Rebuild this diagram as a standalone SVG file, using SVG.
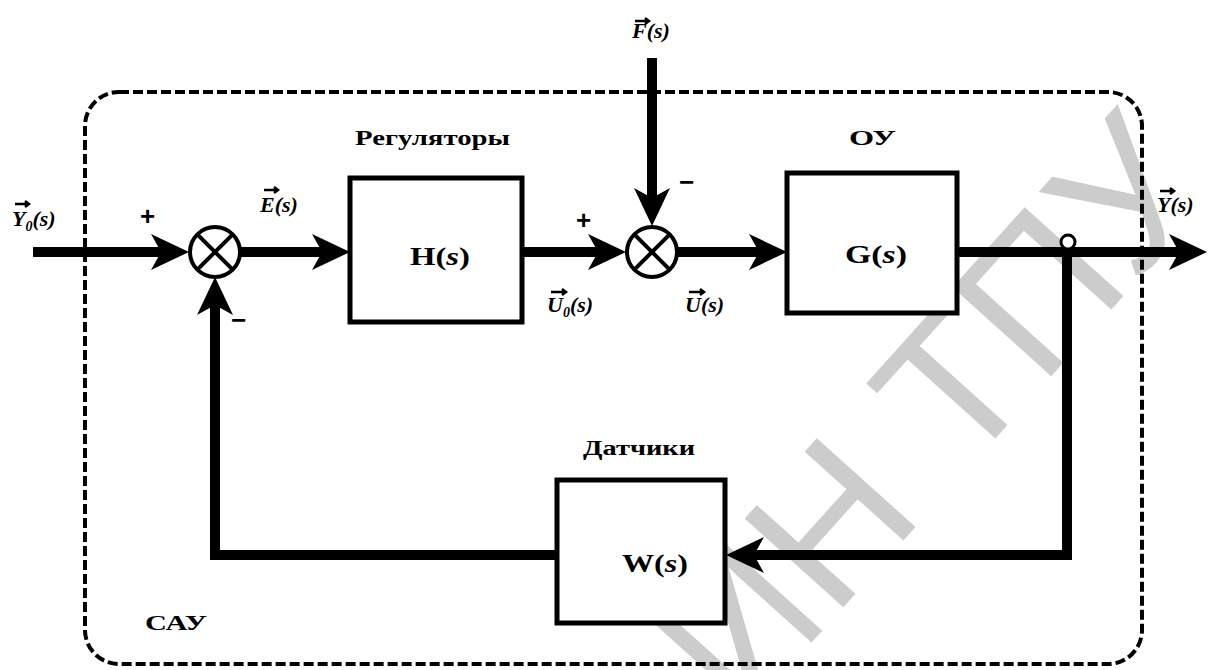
<svg xmlns="http://www.w3.org/2000/svg" width="1219" height="670" viewBox="0 0 1219 670">
<style>
.sig{fill:none;stroke:#000;stroke-width:10;stroke-linejoin:miter}
.box{fill:#fff;stroke:#000;stroke-width:5}
.sum{fill:#fff;stroke:#000;stroke-width:4}
.x{stroke:#000;stroke-width:4}
.frame{fill:none;stroke:#000;stroke-width:4;stroke-dasharray:10 4}
.lbl{font-family:"Liberation Serif","DejaVu Serif",serif;font-weight:bold;font-style:italic;font-size:22px;fill:#000}
.name{font-family:"Liberation Serif","DejaVu Serif",serif;font-weight:bold;font-size:20px;fill:#000}
.fn{font-family:"Liberation Serif","DejaVu Serif",serif;font-weight:bold;font-size:25px;fill:#000}
.sign{font-family:"Liberation Sans","DejaVu Sans",sans-serif;font-weight:bold;font-size:26px;fill:#000}
.vec{fill:none;stroke:#000;stroke-width:2.5}
.wm{font-family:"Liberation Sans","DejaVu Sans",sans-serif;font-size:193px;fill:#cccccc}
</style>
<defs>
<marker id="ah" markerUnits="userSpaceOnUse" orient="auto" refX="0" refY="0" markerWidth="60" markerHeight="60" viewBox="-20 -30 60 60" overflow="visible">
<path d="M-12,-18 L26,0 L-12,18 L-2,0 Z" fill="#000"/>
</marker>
</defs>
<rect width="1219" height="670" fill="#fff"/>
<g id="watermark">
<text class="wm" transform="translate(740,722) rotate(-48)">ИН ТПУ</text>
</g>
<g id="frame">
<rect class="frame" x="85" y="92" width="1057" height="572" rx="34" ry="34"/>
<text class="name" x="145" y="630" font-size="24" textLength="62" lengthAdjust="spacingAndGlyphs">САУ</text>
</g>
<g id="connectors">
<path class="sig" d="M33,252 H163" marker-end="url(#ah)"/>
<path class="sig" d="M240,252 H324" marker-end="url(#ah)"/>
<path class="sig" d="M522,252 H600" marker-end="url(#ah)"/>
<path class="sig" d="M678,252 H761" marker-end="url(#ah)"/>
<path class="sig" d="M957,252 H1181" marker-end="url(#ah)"/>
<path class="sig" d="M652,58 V200" marker-end="url(#ah)"/>
<path class="sig" d="M1067,252 V555 H752" marker-end="url(#ah)"/>
<path class="sig" d="M557,555 H215 V303" marker-end="url(#ah)"/>
<circle cx="1068" cy="242" r="7" fill="#fff" stroke="#000" stroke-width="3"/>
</g>
<g id="sum1">
<circle class="sum" cx="215" cy="252" r="25"/>
<line class="x" x1="197.3" y1="234.3" x2="232.7" y2="269.7"/>
<line class="x" x1="232.7" y1="234.3" x2="197.3" y2="269.7"/>
<text class="sign" x="140" y="225">+</text>
<text class="sign" x="231" y="329">−</text>
</g>
<g id="sum2">
<circle class="sum" cx="652" cy="252" r="25"/>
<line class="x" x1="634.3" y1="234.3" x2="669.7" y2="269.7"/>
<line class="x" x1="669.7" y1="234.3" x2="634.3" y2="269.7"/>
<text class="sign" x="576" y="229">+</text>
<text class="sign" x="679" y="191">−</text>
</g>
<g id="regulator">
<rect class="box" x="350" y="178" width="172" height="144"/>
<text class="fn" x="410" y="265" textLength="60" lengthAdjust="spacingAndGlyphs">H(<tspan font-style="italic">s</tspan>)</text>
<text class="name" x="355" y="145" textLength="155" lengthAdjust="spacingAndGlyphs">Регуляторы</text>
</g>
<g id="plant">
<rect class="box" x="787" y="173" width="170" height="140"/>
<text class="fn" x="845" y="263" textLength="62" lengthAdjust="spacingAndGlyphs">G(<tspan font-style="italic">s</tspan>)</text>
<text class="name" x="849" y="145" font-size="22" textLength="47" lengthAdjust="spacingAndGlyphs">ОУ</text>
</g>
<g id="sensors">
<rect class="box" x="557" y="480" width="168" height="143"/>
<text class="fn" x="622" y="572" textLength="66" lengthAdjust="spacingAndGlyphs">W(<tspan font-style="italic">s</tspan>)</text>
<text class="name" x="583" y="455" textLength="112" lengthAdjust="spacingAndGlyphs">Датчики</text>
</g>
<g id="labels">
<text class="lbl" x="12" y="226">Y<tspan font-size="14" dy="5">0</tspan><tspan dy="-5">(s)</tspan></text>
<path class="vec" d="M15,204 H29 M25,201 L29,204 L25,207"/>
<text class="lbl" x="260" y="212">E(s)</text>
<path class="vec" d="M264,190 H278 M274,187 L278,190 L274,193"/>
<text class="lbl" x="547" y="312">U<tspan font-size="14" dy="5">0</tspan><tspan dy="-5">(s)</tspan></text>
<path class="vec" d="M551,292 H566 M562,289 L566,292 L562,295"/>
<text class="lbl" x="685" y="312">U(s)</text>
<path class="vec" d="M689,292 H704 M700,289 L704,292 L700,295"/>
<text class="lbl" x="632" y="38">F(s)</text>
<path class="vec" d="M635,21 H649 M645,18 L649,21 L645,24"/>
<text class="lbl" x="1157" y="212">Y(s)</text>
<path class="vec" d="M1160,191 H1174 M1170,188 L1174,191 L1170,194"/>
</g>
</svg>
